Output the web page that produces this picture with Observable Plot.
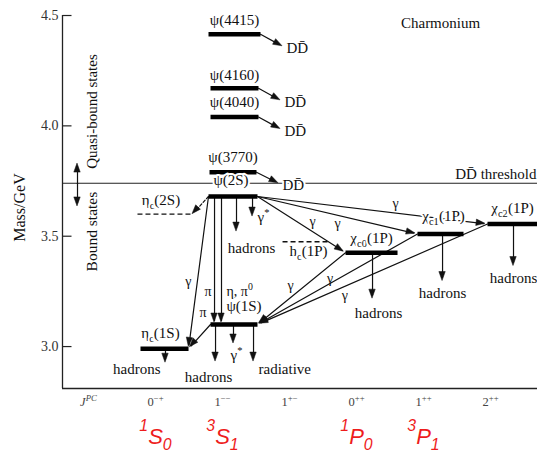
<!DOCTYPE html>
<html>
<head>
<meta charset="utf-8">
<script src="https://cdn.jsdelivr.net/npm/d3@7"></script>
<script src="https://cdn.jsdelivr.net/npm/@observablehq/plot@0.6"></script>
<style>
  html, body { margin: 0; padding: 0; background: #fff; }
  #chart svg { display: block; }
</style>
</head>
<body>
<div id="chart"></div>
<script>
// ---------------- data ----------------
const categories = ["0^{−+}", "1^{−−}", "1^{+−}", "0^{++}", "1^{++}", "2^{++}"];
const spectroscopic = ["^{1}S_{0}", "^{3}S_{1}", "", "^{1}P_{0}", "^{3}P_{1}", ""];
const yTicks = [3.0, 3.5, 4.0, 4.5];

const stateNames = ["η_{c}(1S)", "ψ(1S)", "η_{c}(2S)", "ψ(2S)", "ψ(3770)", "ψ(4040)", "ψ(4160)", "ψ(4415)", "h_{c}(1P)", "χ_{c0}(1P)", "χ_{c1}(1P)", "χ_{c2}(1P)"];
const stateMass = [2.99, 3.10, 3.60, 3.68, 3.79, 4.04, 4.17, 4.415, 3.475, 3.425, 3.51, 3.555];
const stateColumn = [0, 1, 0, 1, 1, 1, 1, 1, 2, 3, 4, 5];
const stateEstablished = [true, true, false, true, true, true, true, true, false, true, true, true];
const thresholdMass = 3.74; // D Dbar threshold

// radiative / M1 transitions
const transFrom = ["ψ(2S)", "ψ(2S)", "ψ(1S)", "ψ(2S)", "ψ(2S)", "ψ(2S)", "χ_{c0}(1P)", "χ_{c1}(1P)", "χ_{c2}(1P)"];
const transTo = ["η_{c}(2S)", "η_{c}(1S)", "η_{c}(1S)", "χ_{c0}(1P)", "χ_{c1}(1P)", "χ_{c2}(1P)", "ψ(1S)", "ψ(1S)", "ψ(1S)"];
const transLabel = ["", "γ", "", "γ", "γ", "γ", "γ", "γ", "γ"];

// hadronic cascades ψ(2S) -> ψ(1S)
const cascadeFrom = ["ψ(2S)", "ψ(2S)"];
const cascadeTo = ["ψ(1S)", "ψ(1S)"];
const cascadeLabels = ["π", "π", "η, π^{0}"];

// open-charm decays
const openCharm = ["ψ(4415)", "ψ(4160)", "ψ(4040)", "ψ(3770)"];

// decays out of the diagram
const decayFrom = ["η_{c}(1S)", "ψ(2S)", "ψ(2S)", "ψ(1S)", "ψ(1S)", "ψ(1S)", "χ_{c0}(1P)", "χ_{c1}(1P)", "χ_{c2}(1P)"];
const decayProduct = ["hadrons", "hadrons", "γ^{*}", "hadrons", "γ^{*}", "radiative", "hadrons", "hadrons", "hadrons"];

// ---------------- layout ----------------
const xMin = -1.388, xMax = 5.701, yMin = 2.81, yMax = 4.568;
const KX = 1 / 67, KY = 1 / 220.7;   // pixel -> data units (layout offsets only)
const barLeft  = [-0.224, 0.821, -0.269, 0.791, 0.806, 0.821, 0.821, 0.791, 1.896, 2.836, 3.910, 4.955];
const barRight = [ 0.493, 1.522,  0.552, 1.522, 1.507, 1.537, 1.537, 1.567, 2.612, 3.612, 4.597, 5.701];
const labelDx = [-4, 10, -4, -2, 0, 0, 0, 0, 2, 0, 3, 0];
const labelDy = [-11, -13, -9, -11, -10, -10, -8, -9, 14, -10, -13, -11];

const transLabelT  = [0, 0.56, 0, 0.625, 0.5, 0.6, 0.59, 0.547, 0.62];
const transLabelDx = [0, -9, 0, 0, 0, 0, -3, 0, 0];
const transLabelDy = [0, 0, 0, -10, 8, -10, -10, -5, 9];

const cascadeX = [0.881, 0.985];
const cascadeLabelOn = [0, 0, 1];
const cascadeLabelT = [0.74, 0.905, 0.74];
const cascadeLabelDx = [-3, -8, 5];
const cascadeLabelAnchor = ["end", "end", "start"];

const decayX   = [0.149, 1.209, 1.448, 0.896, 1.164, 1.463, 3.239, 4.284, 5.343];
const decayLen = [0.063, 0.159, 0.091, 0.168, 0.086, 0.168, 0.208, 0.213, 0.19];
const decayAnchor = ["end", "middle", "start", "middle", "middle", "start", "middle", "middle", "middle"];
const decayLabelDx = [-5, 15, 5, -7, 3, 5, 6, 0, 0];
const decayLabelDy = [11, 21, 5, 20, 17, 12, 19, 17, 17];

// ---------------- tables ----------------
const states = stateNames.map((name, i) => ({
  name, mass: stateMass[i], col: stateColumn[i], established: stateEstablished[i],
  x0: barLeft[i], x1: barRight[i],
  lx: (barLeft[i] + barRight[i]) / 2 + labelDx[i] * KX, ly: stateMass[i] - labelDy[i] * KY
}));
const S = Object.fromEntries(states.map(s => [s.name, s]));

const trans = transFrom.map((f, i) => {
  const a = S[f], b = S[transTo[i]];
  const up = b.col > a.col;
  const x1 = up ? a.x1 : a.x0, x2 = up ? b.x0 : b.x1;
  const t = transLabelT[i];
  return {x1, y1: a.mass, x2, y2: b.mass, label: transLabel[i],
    lx: x1 + (x2 - x1) * t + transLabelDx[i] * KX,
    ly: a.mass + (b.mass - a.mass) * t - transLabelDy[i] * KY,
    dashed: !b.established, inset: b.established ? 2 : 0};
});

const cascades = cascadeFrom.map((f, i) => ({x1: cascadeX[i], x2: cascadeX[i], y1: S[f].mass, y2: S[cascadeTo[i]].mass, inset: 2}));
const cascadeText = cascadeLabels.map((text, i) => {
  const c = cascades[cascadeLabelOn[i]];
  return {text, x: c.x1 + cascadeLabelDx[i] * KX, y: c.y1 + (c.y2 - c.y1) * cascadeLabelT[i], anchor: cascadeLabelAnchor[i]};
});

const ddArrows = openCharm.map(n => {
  const s = S[n];
  const toThreshold = s.mass - thresholdMass < 0.1;
  return {x1: s.x1, y1: s.mass, x2: s.x1 + 22 * KX, y2: toThreshold ? thresholdMass : s.mass - 12 * KY, inset: 0};
});

const decays = decayFrom.map((f, i) => {
  const y2 = S[f].mass - decayLen[i];
  return {x1: decayX[i], x2: decayX[i], y1: S[f].mass, y2, label: decayProduct[i], anchor: decayAnchor[i],
    lx: decayX[i] + decayLabelDx[i] * KX, ly: y2 - decayLabelDy[i] * KY, inset: 0};
});

const boundArrows = [3.829, 3.635].map(y2 => ({x1: -1.164, x2: -1.164, y1: thresholdMass, y2, inset: 0}));

const cols = categories.map((c, i) => ({i, c, spec: spectroscopic[i]}));

const serif = "Liberation Serif";
const lineW = 1.2;
const ink = "#111";

function anchoredText(data, opts) {
  return ["start", "middle", "end"].map(a =>
    Plot.text(data.filter(d => d.anchor === a), {...opts, textAnchor: a}));
}
const shaft = {x1: "x1", y1: "y1", x2: "x2", y2: "y2", stroke: ink, strokeWidth: lineW, headLength: 0, insetEnd: 4};

const chart = Plot.plot({
  width: 537, height: 452,
  marginLeft: 62, marginRight: 0, marginTop: 0, marginBottom: 64,
  x: {domain: [xMin, xMax], axis: null},
  y: {domain: [yMin, yMax], axis: null},
  style: {fontFamily: serif, background: "white", overflow: "visible"},
  marks: [
    // frame pieces
    Plot.ruleX([xMin], {y1: yMin, y2: 4.5, stroke: "#222", strokeWidth: 1.3}),
    Plot.ruleY([yMin], {x1: xMin, x2: xMax, stroke: "#222", strokeWidth: 1.6}),
    Plot.ruleY([thresholdMass], {x1: xMin, x2: xMax, stroke: "#222", strokeWidth: 1.1}),
    Plot.link(yTicks, {x1: xMin, x2: xMin + 9 * KX, y1: d => d, y2: d => d, stroke: "#222", strokeWidth: 1.2}),
    Plot.text(yTicks, {x: xMin, y: d => d, text: d => d.toFixed(1), textAnchor: "end", dx: -4, fontSize: 14, fill: "#333"}),
    // arrow shafts (heads are added below as filled triangles through the same scales)
    Plot.arrow(boundArrows, shaft),
    Plot.arrow(trans.filter(d => !d.dashed), shaft),
    Plot.arrow(trans.filter(d => d.dashed), {...shaft, strokeDasharray: "3,2"}),
    Plot.arrow(cascades, shaft),
    Plot.arrow(ddArrows, shaft),
    Plot.arrow(decays, shaft),
    // levels
    Plot.link(states.filter(d => d.established), {x1: "x0", x2: "x1", y1: "mass", y2: "mass", stroke: "#000", strokeWidth: 4.5}),
    Plot.link(states.filter(d => !d.established), {x1: "x0", x2: "x1", y1: "mass", y2: "mass", stroke: ink, strokeWidth: 1.3, strokeDasharray: "5,3"}),
    // state labels with white halo
    Plot.text(states, {x: "lx", y: "ly", text: "name", fontSize: 15, lineAnchor: "bottom", fill: ink, stroke: "white", strokeWidth: 4}),
    // DD labels
    Plot.text(ddArrows, {x: "x2", y: "y2", text: () => "DD\u0304", textAnchor: "start", lineAnchor: "middle", dx: 4, dy: 2, fontSize: 15, fill: ink, stroke: "white", strokeWidth: 4}),
    Plot.text(["DD\u0304 threshold"], {x: xMax, y: thresholdMass, text: d => d, textAnchor: "end", lineAnchor: "bottom", dy: -4, dx: -1, fontSize: 15, fill: ink}),
    // transition labels
    Plot.text(trans.filter(d => d.label), {x: "lx", y: "ly", text: "label", lineAnchor: "middle", fontSize: 14, fill: ink}),
    ...anchoredText(cascadeText, {x: "x", y: "y", text: "text", lineAnchor: "middle", fontSize: 14, fill: ink}),
    ...anchoredText(decays, {x: "lx", y: "ly", text: "label", lineAnchor: "bottom", fontSize: 15, fill: ink}),
    // annotations
    Plot.text(["Charmonium"], {x: 4.254, y: 4.464, text: d => d, lineAnchor: "middle", fontSize: 15, fill: ink}),
    Plot.text(["Quasi-bound states"], {x: -0.94, y: 4.065, text: d => d, rotate: -90, lineAnchor: "middle", fontSize: 15, fill: ink}),
    Plot.text(["Bound states"], {x: -0.94, y: 3.521, text: d => d, rotate: -90, lineAnchor: "middle", fontSize: 15.5, fill: ink}),
    Plot.text(["Mass/GeV"], {x: -2.03, y: 3.63, text: d => d, rotate: -90, lineAnchor: "middle", fontSize: 16, fill: ink}),
    // J^PC row
    Plot.text([{i: -1, c: "J^{PC}"}], {x: "i", y: yMin, text: "c", dy: 17, lineAnchor: "bottom", fontSize: 12.5, fontStyle: "italic", fill: "#444"}),
    Plot.text(cols, {x: "i", y: yMin, text: "c", dy: 17, lineAnchor: "bottom", fontSize: 12.5, fill: "#444"}),
    // spectroscopic notation in red
    Plot.text(cols.filter(d => d.spec), {x: "i", y: yMin, text: "spec", dy: 55, lineAnchor: "bottom", fontSize: 22, fontFamily: "Liberation Sans", fontStyle: "italic", fill: "#ee1c1c"})
  ]
});

document.getElementById("chart").appendChild(chart);

// filled arrow heads computed through the chart's own scales
(function drawHeads() {
  const sx = chart.scale("x"), sy = chart.scale("y");
  const all = [...boundArrows, ...trans, ...cascades, ...ddArrows, ...decays];
  const svgNS = "http://www.w3.org/2000/svg";
  const g = document.createElementNS(svgNS, "g");
  g.setAttribute("aria-label", "arrow heads");
  const L = 9, W = 3.2;
  for (const a of all) {
    const X1 = sx.apply(a.x1), Y1 = sy.apply(a.y1), X2 = sx.apply(a.x2), Y2 = sy.apply(a.y2);
    const len = Math.hypot(X2 - X1, Y2 - Y1);
    const ux = (X2 - X1) / len, uy = (Y2 - Y1) / len;
    const tx = X2 - ux * a.inset, ty = Y2 - uy * a.inset;
    const bx = tx - ux * L, by = ty - uy * L;
    const p = document.createElementNS(svgNS, "path");
    p.setAttribute("d", `M${tx.toFixed(2)},${ty.toFixed(2)}L${(bx - uy * W).toFixed(2)},${(by + ux * W).toFixed(2)}L${(bx + uy * W).toFixed(2)},${(by - ux * W).toFixed(2)}Z`);
    p.setAttribute("fill", ink);
    p.setAttribute("stroke", ink);
    p.setAttribute("stroke-width", "0.5");
    p.setAttribute("stroke-linejoin", "miter");
    g.appendChild(p);
  }
  // insert heads right after the last arrow group so labels stay on top
  const arrows = chart.querySelectorAll("g[aria-label='arrow']");
  const lastArrow = arrows[arrows.length - 1];
  if (lastArrow && lastArrow.parentNode === chart) chart.insertBefore(g, lastArrow.nextSibling);
  else chart.appendChild(g);
})();

// rich text: _{sub} and ^{sup}
d3.select(chart).selectAll("text").each(function() {
  const s = this.textContent;
  if (!/[_^]\{/.test(s)) return;
  const fs = parseFloat(getComputedStyle(this).fontSize) || 14;
  const big = fs >= 20;
  const supShift = big ? 0.55 : 0.4, subShift = big ? 0.3 : 0.28, small = big ? 0.72 : 0.7;
  const re = /([_^])\{([^}]*)\}/g;
  const parts = [];
  let last = 0, m;
  while ((m = re.exec(s))) {
    if (m.index > last) parts.push({t: s.slice(last, m.index), k: 0});
    parts.push({t: m[2], k: m[1] === "_" ? 1 : -1});
    last = re.lastIndex;
  }
  if (last < s.length) parts.push({t: s.slice(last), k: 0});
  this.textContent = "";
  let cur = 0;
  for (const p of parts) {
    const target = p.k === 1 ? fs * subShift : p.k === -1 ? -fs * supShift : 0;
    const ts = d3.select(this).append("tspan").text(p.t).attr("dy", (target - cur).toFixed(2));
    if (p.k) ts.attr("font-size", (fs * small).toFixed(2));
    cur = target;
  }
});
</script>
</body>
</html>
